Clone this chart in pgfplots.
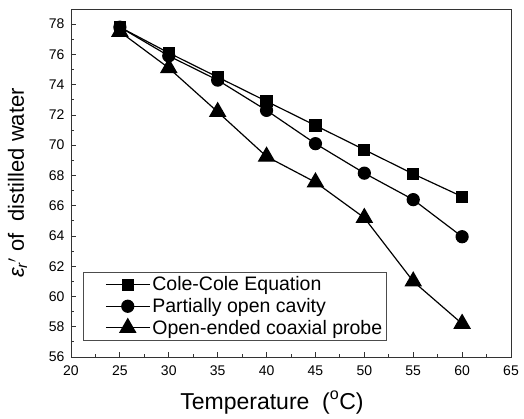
\documentclass[border=0pt]{standalone}
\usepackage{pgfplots}
\pgfplotsset{compat=1.18}
\usepackage{fontspec}
\setmainfont{Liberation Sans}

\begin{document}
\begin{tikzpicture}
\begin{axis}[
  scale only axis,
  width=440pt, height=348pt,
  xmin=20, xmax=65, ymin=56, ymax=79,
  xtick={20,25,...,65}, ytick={56,58,...,78},
  minor x tick num=1, minor y tick num=1,
  tick align=inside, tick pos=left,
  major tick length=5pt, minor tick length=3pt,
  axis line style={draw=black!80, line width=0.9pt},
  every tick/.style={black!80, line width=0.8pt},
  /pgf/number format/assume math mode=true,
  tick label style={font=\fontsize{14}{16}\selectfont},
  xticklabel style={yshift=-5pt},
  yticklabel style={xshift=-3pt},
  xlabel={Temperature\ \ (\textsuperscript{o}C)},
  ylabel={{\itshape ε}\textsubscript{\itshape r}$'$ of\ \ distilled water},
  xlabel style={font=\fontsize{23}{26}\selectfont,
    at={(axis description cs:0.5,0)}, anchor=base, yshift=-52pt, xshift=-19pt},
  ylabel style={font=\fontsize{22}{26}\selectfont,
    at={(axis description cs:0,0.5)}, anchor=base, yshift=47pt},
  legend style={
    at={(0.027,0.046)}, anchor=south west,
    draw=black!70, line width=0.6pt,
    row sep=2pt, inner xsep=2pt, inner ysep=3pt,
    nodes={font=\fontsize{19.5}{23}\selectfont},
  },
  legend cell align=left,
  legend image code/.code={
    \path (0pt,0pt);
    \draw[mark repeat=2, mark phase=2] plot coordinates {(20pt,0pt) (42pt,0pt) (64pt,0pt)};
  },
  every axis plot/.append style={black, line width=1.2pt, mark options={solid, fill=black}},
]

\addplot[mark=square*, mark size=5.5pt]
  coordinates {(25,77.8)(30,76.1)(35,74.5)(40,72.9)(45,71.3)(50,69.7)(55,68.1)(60,66.6)};
\addlegendentry{Cole-Cole Equation}

\addplot[mark=*, mark size=6pt]
  coordinates {(25,77.8)(30,75.9)(35,74.3)(40,72.3)(45,70.1)(50,68.15)(55,66.4)(60,63.95)};
\addlegendentry{Partially open cavity}

\addplot[mark=triangle*, mark size=9pt]
  coordinates {(25,77.5)(30,75.1)(35,72.2)(40,69.25)(45,67.55)(50,65.2)(55,61.0)(60,58.2)};
\addlegendentry{Open-ended coaxial probe}

\end{axis}
\path ([shift={(-71pt,-61pt)}]current axis.south west)
  rectangle ([shift={(13pt,9pt)}]current axis.north east);
\end{tikzpicture}
\end{document}
